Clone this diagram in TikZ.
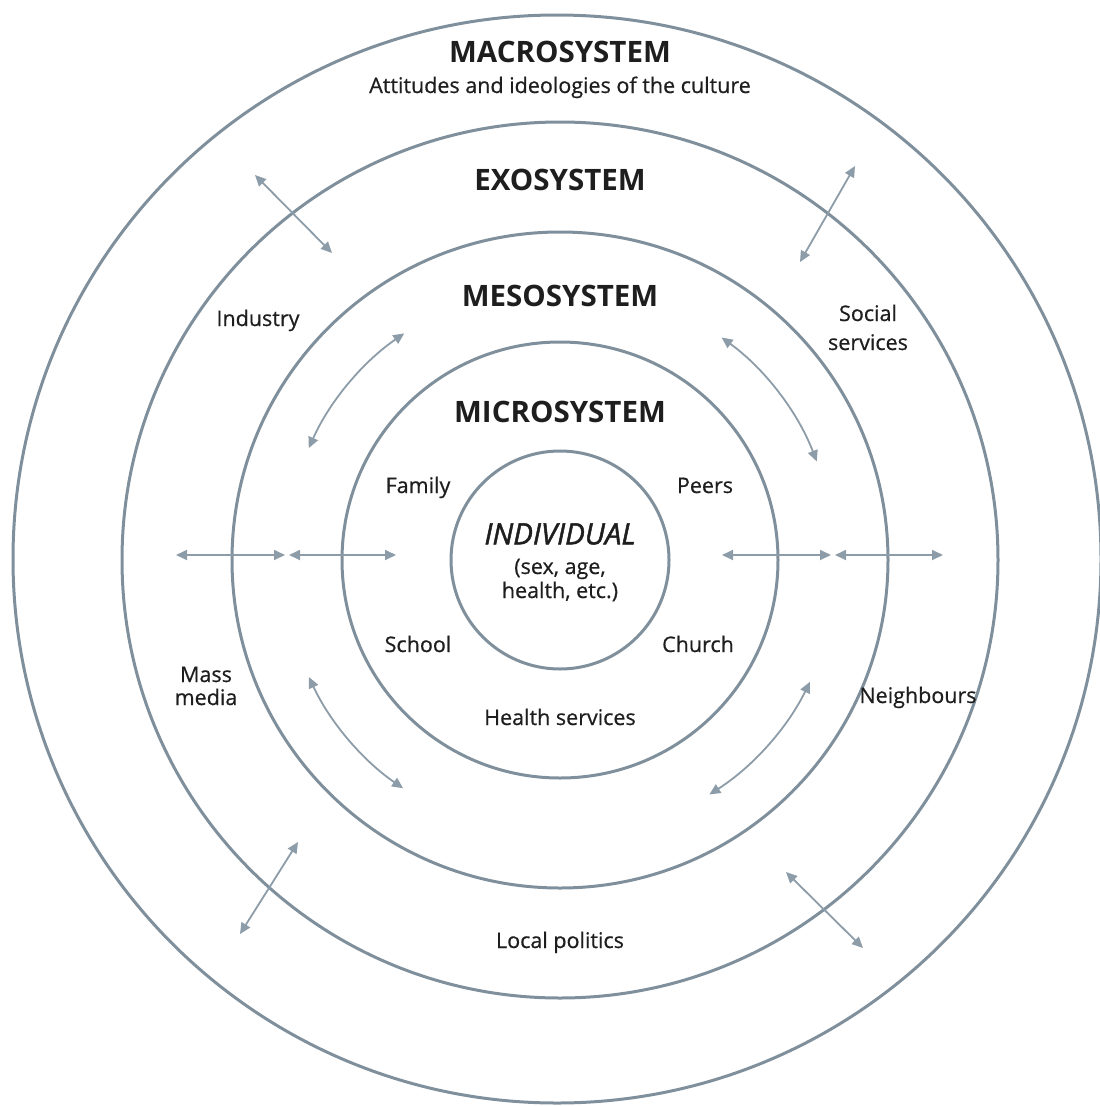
\documentclass[tikz,border=0pt]{standalone}
\usepackage{fontspec}
\setmainfont{Open Sans}
\newfontfamily\labelfont[FakeBold=0.6]{Open Sans}
\newfontfamily\indfont[FakeBold=1.6]{Open Sans}
\usetikzlibrary{arrows.meta}
\definecolor{ringc}{HTML}{7F909C}
\definecolor{arrc}{HTML}{8C9CA8}
\definecolor{txtc}{HTML}{1E1E1E}
\begin{document}
\begin{tikzpicture}[x=1pt,y=-1pt,
  ring/.style={circle,draw=ringc,line width=3pt,inner sep=0pt},
  dbl/.style={draw=arrc,line width=1.8pt,{Triangle[length=11pt,width=10pt]}-{Triangle[length=11pt,width=10pt]}},
  lbl/.style={text=txtc,font=\labelfont\fontsize{21.5}{25}\selectfont,anchor=base,inner sep=0pt},
  head/.style={text=txtc,font=\bfseries\fontsize{29.5}{33}\selectfont,inner sep=0pt},
  indl/.style={text=txtc,font=\indfont\itshape\fontsize{29.5}{33}\selectfont,inner sep=0pt}]
\useasboundingbox (0,0) rectangle (1100,1106);
% rings
\node[ring,minimum size=1088pt] (macro) at (557,559) {};
\node[ring,minimum size=876pt] (exo) at (560,560) {};
\node[ring,minimum size=656pt] (meso) at (560,560) {};
\node[ring,minimum size=436pt] (micro) at (560,560) {};
\node[ring,minimum size=218pt] (indiv) at (560,560) {};
% headings
\node[head] (hmacro) at (560,52) {MACROSYSTEM};
\node[lbl] (attit) at (560,93) {Attitudes and ideologies of the culture};
\node[head] (hexo) at (560,180) {EXOSYSTEM};
\node[head] (hmeso) at (560,296) {MESOSYSTEM};
\node[head] (hmicro) at (560,412) {MICROSYSTEM};
\node[indl] (hind) at (560,534) {INDIVIDUAL};
\node[lbl] (sex) at (560,574) {(sex, age,};
\node[lbl] (health) at (560,598) {health, etc.)};
% labels
\node[lbl] (industry) at (258,326) {Industry};
\node[lbl] (social) at (868,321) {Social};
\node[lbl] (services) at (868,350) {services};
\node[lbl] (family) at (418,493) {Family};
\node[lbl] (peers) at (705,493) {Peers};
\node[lbl] (school) at (418,652) {School};
\node[lbl] (church) at (698,652) {Church};
\node[lbl] (hserv) at (560,725) {Health services};
\node[lbl] (mass) at (206,682) {Mass};
\node[lbl] (media) at (206,705) {media};
\node[lbl] (neigh) at (918,703) {Neighbours};
\node[lbl] (local) at (560,948) {Local politics};
% straight arrows
\coordinate (l1) at (176,555); \coordinate (l2) at (285,555);
\coordinate (l3) at (289,555); \coordinate (l4) at (396,555);
\coordinate (r1) at (722,555); \coordinate (r2) at (831,555);
\coordinate (r3) at (835,555); \coordinate (r4) at (943,555);
\draw[dbl] (l1) -- (l2);
\draw[dbl] (l3) -- (l4);
\draw[dbl] (r1) -- (r2);
\draw[dbl] (r3) -- (r4);
\coordinate (d1a) at (255,175); \coordinate (d1b) at (332,253);
\coordinate (d2a) at (855,166); \coordinate (d2b) at (800,262);
\coordinate (d3a) at (298,842); \coordinate (d3b) at (240,934);
\coordinate (d4a) at (786,872); \coordinate (d4b) at (863,948);
\draw[dbl] (d1a) -- (d1b);
\draw[dbl] (d2a) -- (d2b);
\draw[dbl] (d3a) -- (d3b);
\draw[dbl] (d4a) -- (d4b);
% curved arrows
\coordinate (tl) at ([shift={(-124.5:275)}]indiv.center);
\coordinate (tr) at ([shift={(-54:275)}]indiv.center);
\coordinate (bl) at ([shift={(155:277)}]indiv.center);
\coordinate (br) at ([shift={(26:278)}]indiv.center);
\draw[dbl] (tl) arc[start angle=-124.5,end angle=-156,radius=275];
\draw[dbl] (tr) arc[start angle=-54,end angle=-21,radius=275];
\draw[dbl] (bl) arc[start angle=155,end angle=124.5,radius=277];
\draw[dbl] (br) arc[start angle=26,end angle=57.5,radius=278];
\end{tikzpicture}
\end{document}
